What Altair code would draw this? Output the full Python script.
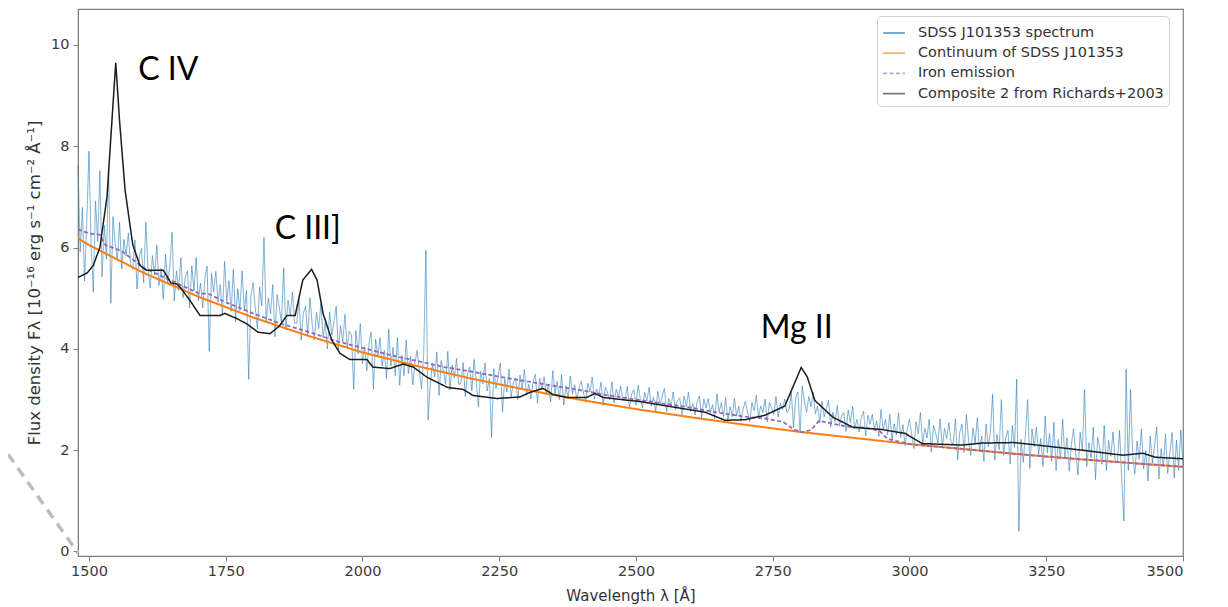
import altair as alt
import pandas as pd

SERIES = [
    "SDSS J101353 spectrum",
    "Continuum of SDSS J101353",
    "Iron emission",
    "Composite 2 from Richards+2003",
]
SERIES_COLORS = ["#1f77b4", "#ff7f0e", "#9467bd", "#1c1c1c"]
SERIES_DASHES = [[1, 0], [1, 0], [4, 2.5], [1, 0]]

x_ticks = [1500, 1750, 2000, 2250, 2500, 2750, 3000, 3250, 3500]
y_ticks = [0, 2, 4, 6, 8, 10]

# observed spectrum, one value every 4 A starting at 1480 A (one row = 100 A)
spec_start = 1480
spec_step = 4
spec_flux = [
    7.62, 5.91, 6.79, 5.34, 6.49, 7.90, 6.05, 5.12, 6.92, 6.12, 7.52, 5.42, 6.44,
    5.77, 7.60, 4.90, 6.61, 6.07, 5.74, 6.50, 5.58, 6.16, 5.83, 6.29, 5.67,
    5.57, 6.15, 5.18, 5.82, 5.98, 5.31, 6.50, 5.57, 5.20, 5.84, 5.46, 6.05, 5.25,
    5.59, 4.98, 5.86, 5.30, 5.65, 6.30, 4.95, 5.54, 5.16, 5.80, 5.01, 5.41,
    5.54, 4.81, 5.64, 5.15, 5.80, 4.95, 5.30, 4.81, 5.40, 5.63, 3.95, 5.49, 5.12,
    5.53, 4.92, 5.27, 4.66, 5.73, 4.94, 5.35, 4.74, 5.57, 4.54, 5.19, 4.76,
    5.54, 4.75, 5.16, 3.40, 5.02, 5.31, 4.82, 4.39, 5.22, 4.85, 6.20, 4.53, 5.00,
    4.69, 5.27, 4.24, 5.07, 4.82, 4.51, 5.60, 4.37, 4.96, 4.65, 5.12, 4.51,
    4.50, 4.99, 4.17, 4.71, 4.84, 4.28, 5.01, 4.50, 4.18, 4.72, 4.40, 4.89, 4.22,
    4.51, 4.00, 4.73, 4.27, 4.55, 4.84, 3.97, 4.46, 4.14, 4.68, 4.01, 4.35,
    4.27, 3.20, 4.36, 3.90, 4.50, 3.71, 4.04, 3.57, 4.12, 4.33, 3.20, 4.19, 3.84,
    4.22, 3.66, 3.97, 3.41, 4.39, 3.66, 4.03, 3.47, 4.23, 3.28, 3.87, 3.47,
    4.17, 3.51, 3.85, 3.29, 3.73, 3.97, 3.56, 3.21, 3.90, 5.95, 2.60, 3.32, 3.71,
    3.45, 3.94, 3.08, 3.77, 3.56, 3.30, 3.95, 3.19, 3.68, 3.42, 3.81, 3.30,
    3.32, 3.73, 3.06, 3.51, 3.64, 3.17, 3.79, 3.37, 2.85, 3.56, 3.31, 3.72, 3.17,
    3.41, 2.25, 3.61, 3.22, 3.47, 3.72, 2.75, 3.41, 3.15, 3.60, 3.06, 3.34,
    3.42, 3.00, 3.48, 3.20, 3.59, 3.08, 3.30, 3.01, 3.36, 3.50, 2.93, 3.42, 3.20,
    3.45, 3.09, 3.30, 2.95, 3.57, 3.11, 3.36, 3.00, 3.49, 2.89, 3.27, 3.02,
    3.46, 3.11, 3.29, 2.99, 3.23, 3.36, 3.14, 2.95, 3.32, 3.15, 3.44, 3.01, 3.21,
    3.08, 3.34, 2.88, 3.25, 3.14, 2.99, 3.35, 2.93, 3.20, 3.06, 3.27, 2.99,
    2.99, 3.26, 2.82, 3.11, 3.19, 2.89, 3.28, 3.01, 2.84, 3.14, 2.97, 3.24, 2.87,
    3.04, 2.76, 3.16, 2.91, 3.07, 3.22, 2.76, 3.02, 2.86, 3.15, 2.80, 2.98,
    3.03, 2.70, 3.07, 2.86, 3.14, 2.76, 2.92, 2.70, 2.96, 3.07, 2.63, 3.01, 2.83,
    3.02, 2.74, 2.90, 2.62, 3.11, 2.75, 2.94, 2.66, 3.04, 2.57, 2.86, 2.66,
    3.02, 2.67, 2.87, 2.57, 2.82, 2.96, 2.75, 2.56, 2.94, 2.78, 3.08, 2.65, 2.87,
    2.74, 3.01, 2.56, 2.94, 2.83, 2.70, 3.06, 2.65, 2.93, 2.80, 3.01, 2.74,
    2.81, 3.14, 2.45, 3.04, 3.15, 2.35, 3.27, 2.95, 2.75, 3.06, 2.86, 3.14, 2.72,
    2.87, 2.54, 2.96, 2.66, 2.82, 2.98, 2.46, 2.75, 2.56, 2.88, 2.48, 2.68,
    2.74, 2.37, 2.79, 2.54, 2.86, 2.43, 2.61, 2.36, 2.65, 2.77, 2.28, 2.69, 2.51,
    2.71, 2.40, 2.58, 2.27, 2.80, 2.40, 2.61, 2.30, 2.71, 2.20, 2.52, 2.30,
    2.74, 2.25, 2.50, 2.09, 2.42, 2.61, 2.30, 2.03, 2.56, 2.32, 2.74, 2.13, 2.43,
    2.24, 2.61, 1.96, 2.49, 2.33, 2.14, 2.62, 2.05, 2.43, 2.23, 2.54, 2.15,
    2.12, 2.62, 1.81, 2.36, 2.51, 1.95, 2.70, 2.20, 1.90, 2.44, 2.14, 2.64, 1.98,
    2.28, 1.78, 2.52, 2.07, 2.37, 3.10, 1.81, 2.31, 2.01, 3.00, 1.90, 2.25,
    2.39, 1.73, 2.49, 2.05, 3.40, 0.40, 2.21, 1.76, 2.32, 3.00, 1.64, 2.42, 2.07,
    2.46, 1.91, 2.23, 1.68, 2.67, 1.95, 2.33, 1.78, 2.55, 1.60, 2.21, 1.82,
    2.61, 1.83, 2.24, 1.58, 2.12, 2.42, 1.93, 1.51, 2.35, 1.98, 3.20, 1.68, 2.15,
    1.85, 2.45, 1.42, 2.26, 2.02, 1.72, 2.49, 1.59, 2.19, 1.88, 2.36, 1.76,
    1.79, 2.39, 1.42, 0.60, 3.60, 1.60, 3.20, 1.89, 1.53, 2.18, 1.82, 2.42, 1.63,
    1.99, 1.39, 2.28, 1.74, 2.10, 2.46, 1.43, 2.03, 1.67, 2.32, 1.54, 1.96,
    2.35, 1.45, 2.20, 1.60, 2.40, 1.70,
]

cont_wave = [1480, 1500, 1600, 1700, 1800, 1900, 2000, 2100, 2200, 2300, 2400,
             2500, 2600, 2700, 2800, 2900, 3000, 3100, 3200, 3300, 3400, 3500]
cont_flux = [6.18, 6.05, 5.50, 5.03, 4.62, 4.26, 3.93, 3.66, 3.41, 3.19, 2.99,
             2.81, 2.65, 2.50, 2.36, 2.24, 2.12, 2.02, 1.92, 1.83, 1.75, 1.67]

iron_wave = [1480, 1500, 1520, 1530, 1560, 1600, 1650, 1700, 1720, 1750, 1800,
             1850, 1900, 1950, 2000, 2050, 2100, 2150, 2200, 2250, 2300, 2350,
             2400, 2450, 2500, 2550, 2600, 2650, 2700, 2740, 2770, 2790, 2805,
             2820, 2835, 2860, 2890, 2920, 2945, 2960, 3000, 3100, 3200, 3300,
             3400, 3500]
iron_flux = [6.36, 6.28, 6.25, 6.05, 5.93, 5.60, 5.35, 5.10, 5.08, 4.92, 4.70,
             4.50, 4.34, 4.16, 4.02, 3.88, 3.76, 3.64, 3.55, 3.45, 3.36, 3.27,
             3.18, 3.08, 3.00, 2.92, 2.84, 2.74, 2.66, 2.62, 2.55, 2.40, 2.35,
             2.40, 2.58, 2.52, 2.46, 2.44, 2.38, 2.22, 2.12, 2.02, 1.92, 1.83,
             1.75, 1.67]

comp_wave = [1480, 1497, 1508, 1520, 1533, 1542, 1549, 1556, 1566, 1580, 1593,
             1605, 1620, 1636, 1650, 1661, 1668, 1685, 1703, 1720, 1740, 1748,
             1770, 1789, 1809, 1831, 1848, 1862, 1877, 1891, 1907, 1917, 1928,
             1944, 1959, 1977, 2008, 2019, 2050, 2074, 2093, 2118, 2155, 2184,
             2202, 2246, 2288, 2306, 2330, 2348, 2374, 2410, 2425, 2440, 2489,
             2507, 2580, 2626, 2663, 2699, 2736, 2772, 2787, 2802, 2813, 2827,
             2860, 2897, 2948, 2992, 3023, 3096, 3133, 3191, 3242, 3315, 3390,
             3427, 3449, 3500]
comp_flux = [5.41, 5.50, 5.65, 6.00, 7.00, 8.50, 9.65, 8.50, 7.14, 6.06, 5.65,
             5.55, 5.55, 5.55, 5.30, 5.28, 5.20, 4.95, 4.66, 4.66, 4.66, 4.70,
             4.60, 4.49, 4.33, 4.30, 4.45, 4.66, 4.66, 5.36, 5.57, 5.36, 4.70,
             4.17, 3.91, 3.79, 3.79, 3.64, 3.61, 3.70, 3.64, 3.44, 3.24, 3.20,
             3.08, 3.02, 3.05, 3.14, 3.22, 3.10, 3.04, 3.04, 3.12, 3.04, 2.98,
             2.96, 2.83, 2.75, 2.59, 2.60, 2.69, 2.87, 3.25, 3.63, 3.45, 2.98,
             2.65, 2.45, 2.41, 2.33, 2.13, 2.10, 2.14, 2.15, 2.09, 2.00, 1.90,
             1.94, 1.86, 1.83]

line_names = ["C IV", "C III]", "Mg II"]
line_wave = [1645, 1900, 2794]
line_flux = [9.51, 6.37, 4.41]

# dashed zoom callout from the slide, left of the axis
callout_wave = [1352, 1480]
callout_flux = [1.92, -0.03]

spec_wave = [spec_start + spec_step * i for i in range(len(spec_flux))]

spec_df = pd.DataFrame({"wave": spec_wave, "flux": spec_flux, "series": SERIES[0]})
cont_df = pd.DataFrame({"wave": cont_wave, "flux": cont_flux, "series": SERIES[1]})
iron_df = pd.DataFrame({"wave": iron_wave, "flux": iron_flux, "series": SERIES[2]})
comp_df = pd.DataFrame({"wave": comp_wave, "flux": comp_flux, "series": SERIES[3]})
label_df = pd.DataFrame({"wave": line_wave, "flux": line_flux, "name": line_names})
callout_df = pd.DataFrame({"wave": callout_wave, "flux": callout_flux})

x_enc = alt.X("wave:Q",
              scale=alt.Scale(domain=[1480, 3500], nice=False, zero=False),
              axis=alt.Axis(values=x_ticks, format="d", title="Wavelength λ [Å]",
                            grid=False, titlePadding=11))
y_enc = alt.Y("flux:Q",
              scale=alt.Scale(domain=[-0.09, 10.71], nice=False, zero=False),
              axis=alt.Axis(values=y_ticks, title="Flux density Fλ [10⁻¹⁶ erg s⁻¹ cm⁻² Å⁻¹]",
                            grid=False, titlePadding=8, labelPadding=4, titleFontSize=16.5))
color_enc = alt.Color("series:N",
                      scale=alt.Scale(domain=SERIES, range=SERIES_COLORS),
                      legend=alt.Legend(title=None, orient="none", legendX=799, legendY=7,
                                        symbolType="stroke", symbolSize=480,
                                        symbolStrokeWidth=1.8, symbolOpacity=1,
                                        labelFontSize=14.5, labelFont="DejaVu Sans",
                                        labelColor="#333333", labelOffset=12, labelLimit=0,
                                        rowPadding=1.2, padding=5, cornerRadius=4,
                                        strokeColor="#d0d0d0", fillColor="white"))
dash_enc = alt.StrokeDash("series:N",
                          scale=alt.Scale(domain=SERIES, range=SERIES_DASHES),
                          legend=alt.Legend(title=None))


def series_layer(df, **mark_kw):
    return alt.Chart(df).mark_line(**mark_kw).encode(
        x=x_enc, y=y_enc, color=color_enc, strokeDash=dash_enc)


spectrum = series_layer(spec_df, strokeWidth=1.0, opacity=0.6)
continuum = series_layer(cont_df, strokeWidth=2)
iron = series_layer(iron_df, strokeWidth=1.8)
composite = series_layer(comp_df, strokeWidth=1.5)

labels = alt.Chart(label_df).mark_text(font="Lato", fontSize=32, color="black").encode(
    x="wave:Q", y="flux:Q", text="name:N")

callout = alt.Chart(callout_df).mark_line(
    color="#bdbdbd", strokeWidth=3.5, strokeDash=[10, 7]).encode(x="wave:Q", y="flux:Q")

chart = alt.layer(callout, spectrum, continuum, iron, composite, labels).properties(
    width=1105, height=547,
    padding={"left": 70, "top": 1, "right": 37, "bottom": 50},
    autosize=alt.AutoSizeParams(type="none"),
).configure_view(
    stroke="#7f7f7f", strokeWidth=1.2
).configure_axis(
    labelFont="DejaVu Sans", titleFont="DejaVu Sans",
    labelFontSize=14.5, titleFontSize=15, labelColor="#3a3a3a", titleColor="#333333",
    domainColor="#7f7f7f", tickColor="#7f7f7f", tickSize=5, labelPadding=3,
    titleFontWeight="normal",
)

chart.save("out.html", embed_options={"renderer": "svg", "actions": False})
